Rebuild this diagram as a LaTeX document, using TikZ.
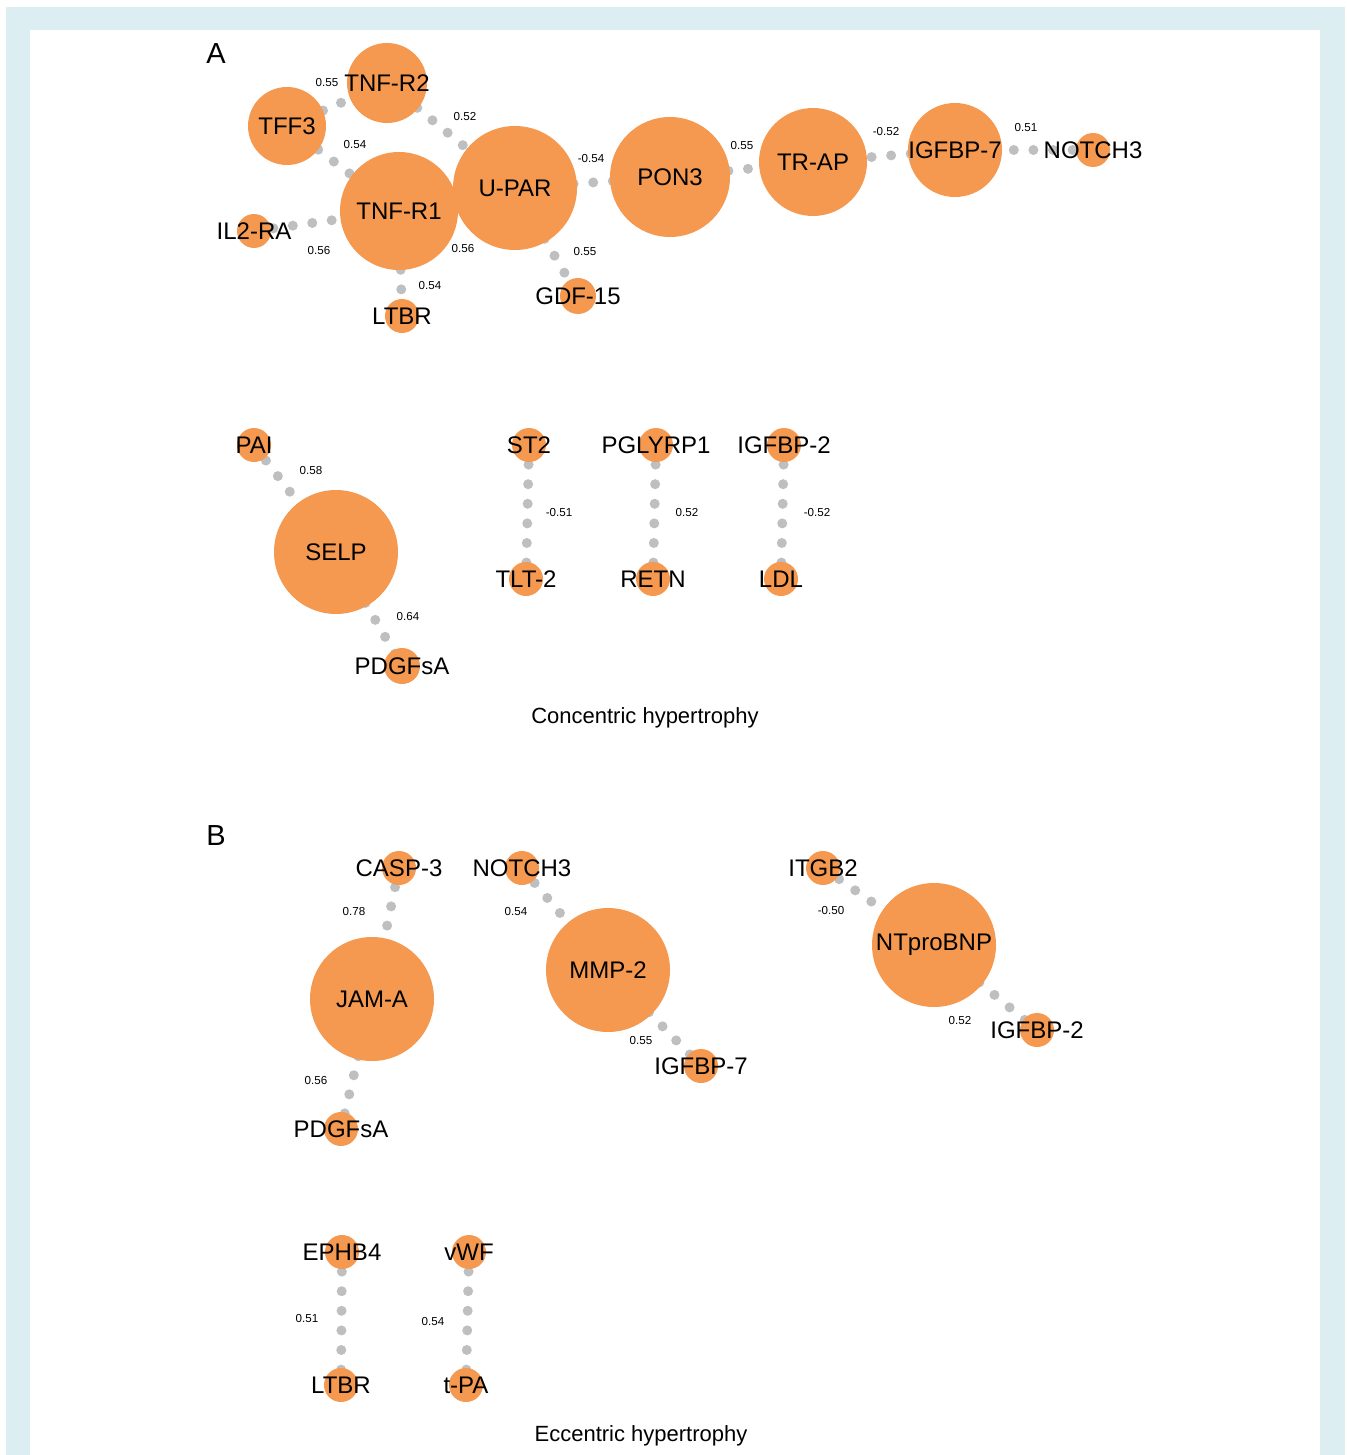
\documentclass[tikz,border=0pt]{standalone}
\usepackage{fontspec}
\setmainfont{Liberation Sans}
\usetikzlibrary{backgrounds}
\definecolor{geneorange}{RGB}{245,153,80}
\definecolor{dotgray}{RGB}{189,191,193}
\definecolor{frameblue}{RGB}{221,238,243}
\tikzset{
    gene/.style={circle, fill=geneorange, inner sep=0pt, minimum size=#1},
    gene/.default=17pt,
    corr/.style={draw=dotgray, line width=5pt, line cap=round, dash pattern=on 0pt off 9.8pt},
    weight/.style={font=\fontsize{5.8}{7}\selectfont, inner sep=0pt},
    every label/.style={font=\fontsize{12}{14}\selectfont},
}

\begin{document}
\begin{tikzpicture}[x=0.5pt, y=-0.5pt]
    \useasboundingbox (0,0) rectangle (1346,1455);
    % Frame
    \begin{scope}[on background layer]
        \fill[frameblue] (6,7) rectangle (1345,1455);
        \fill[white] (30,30) rectangle (1320,1455);
    \end{scope}

    % Panel A: concentric hypertrophy
    \node[font=\fontsize{14.5}{17}\selectfont] (panelA) at (216,54) {A};
    \node[gene=40pt, label=center:TNF-R2] (tnfr2) at (387,83) {};
    \node[gene=39pt, label=center:TFF3] (tff3) at (287,126) {};
    \node[gene=59pt, label=center:TNF-R1] (tnfr1) at (399,211) {};
    \node[gene=62pt, label=center:U-PAR] (upar) at (515,188) {};
    \node[gene, label=center:IL2-RA] (il2ra) at (254,231) {};
    \node[gene, label=center:LTBR] (ltbrA) at (402,316) {};
    \node[gene=18pt, label=center:GDF-15] (gdf15) at (578,296) {};
    \node[gene=60pt, label=center:PON3] (pon3) at (670,177) {};
    \node[gene=54pt, label=center:TR-AP] (trap) at (813,162) {};
    \node[gene=47pt, label=center:IGFBP-7] (igfbp7A) at (955,150) {};
    \node[gene, label=center:NOTCH3] (notch3A) at (1093,150) {};

    \node[gene, label=center:PAI] (pai) at (254,445) {};
    \node[gene=62pt, label=center:SELP] (selp) at (336,552) {};
    \node[gene=18pt, label=center:PDGFsA] (pdgfsaA) at (402,666) {};
    \node[gene, label=center:ST2] (st2) at (529,445) {};
    \node[gene, label=center:TLT-2] (tlt2) at (526,579) {};
    \node[gene, label=center:PGLYRP1] (pglyrp1) at (656,445) {};
    \node[gene, label=center:RETN] (retn) at (653,579) {};
    \node[gene, label=center:IGFBP-2] (igfbp2A) at (784,445) {};
    \node[gene, label=center:LDL] (ldl) at (781,579) {};
    \node[font=\fontsize{11}{13}\selectfont] (capA) at (645,718) {Concentric hypertrophy};

    % Panel B: eccentric hypertrophy
    \node[font=\fontsize{14.5}{17}\selectfont] (panelB) at (216,836) {B};
    \node[gene, label=center:CASP-3] (casp3) at (399,868) {};
    \node[gene=62pt, label=center:JAM-A] (jama) at (372,999) {};
    \node[gene, label=center:PDGFsA] (pdgfsaB) at (341,1129) {};
    \node[gene, label=center:NOTCH3] (notch3B) at (522,868) {};
    \node[gene=62pt, label=center:MMP-2] (mmp2) at (608,970) {};
    \node[gene, label=center:IGFBP-7] (igfbp7B) at (701,1066) {};
    \node[gene, label=center:ITGB2] (itgb2) at (823,868) {};
    \node[gene=62pt, label=center:NTproBNP] (ntprobnp) at (934,945) {};
    \node[gene, label=center:IGFBP-2] (igfbp2B) at (1037,1030) {};
    \node[gene, label=center:EPHB4] (ephb4) at (342,1252) {};
    \node[gene, label=center:LTBR] (ltbrB) at (341,1385) {};
    \node[gene, label=center:vWF] (vwf) at (469,1252) {};
    \node[gene, label=center:t-PA] (tpa) at (466,1385) {};
    \node[font=\fontsize{11}{13}\selectfont] (capB) at (641,1436) {Eccentric hypertrophy};

    % Correlations
    \begin{scope}[on background layer]
        \draw[corr] (tff3.center) -- (tnfr2.center);
        \draw[corr] (tnfr2.center) -- (upar.center);
        \draw[corr] (tff3.center) -- (tnfr1.center);
        \draw[corr] (il2ra.center) -- (tnfr1.center);
        \draw[corr] (tnfr1.center) -- (upar.center);
        \draw[corr] (tnfr1.center) -- (ltbrA.center);
        \draw[corr] (upar.center) -- (gdf15.center);
        \draw[corr] (upar.center) -- (pon3.center);
        \draw[corr] (pon3.center) -- (trap.center);
        \draw[corr] (trap.center) -- (igfbp7A.center);
        \draw[corr] (igfbp7A.center) -- (notch3A.center);
        \draw[corr] (pai.center) -- (selp.center);
        \draw[corr] (selp.center) -- (pdgfsaA.center);
        \draw[corr] (st2.center) -- (tlt2.center);
        \draw[corr] (pglyrp1.center) -- (retn.center);
        \draw[corr] (igfbp2A.center) -- (ldl.center);
        \draw[corr] (casp3.center) -- (jama.center);
        \draw[corr] (jama.center) -- (pdgfsaB.center);
        \draw[corr] (notch3B.center) -- (mmp2.center);
        \draw[corr] (mmp2.center) -- (igfbp7B.center);
        \draw[corr] (itgb2.center) -- (ntprobnp.center);
        \draw[corr] (ntprobnp.center) -- (igfbp2B.center);
        \draw[corr] (ephb4.center) -- (ltbrB.center);
        \draw[corr] (vwf.center) -- (tpa.center);
    \end{scope}

    % Correlation coefficients
    \node[weight] (w1) at (327,83) {0.55};
    \node[weight] (w2) at (465,117) {0.52};
    \node[weight] (w3) at (355,145) {0.54};
    \node[weight] (w4) at (319,251) {0.56};
    \node[weight] (w5) at (463,249) {0.56};
    \node[weight] (w6) at (430,286) {0.54};
    \node[weight] (w7) at (585,252) {0.55};
    \node[weight] (w8) at (591,159) {-0.54};
    \node[weight] (w9) at (742,146) {0.55};
    \node[weight] (w10) at (886,132) {-0.52};
    \node[weight] (w11) at (1026,128) {0.51};
    \node[weight] (w12) at (311,471) {0.58};
    \node[weight] (w13) at (408,617) {0.64};
    \node[weight] (w14) at (559,513) {-0.51};
    \node[weight] (w15) at (687,513) {0.52};
    \node[weight] (w16) at (817,513) {-0.52};
    \node[weight] (w17) at (354,911) {0.78};
    \node[weight] (w18) at (316,1080) {0.56};
    \node[weight] (w19) at (516,911) {0.54};
    \node[weight] (w20) at (641,1040) {0.55};
    \node[weight] (w21) at (831,910) {-0.50};
    \node[weight] (w22) at (960,1020) {0.52};
    \node[weight] (w23) at (307,1318) {0.51};
    \node[weight] (w24) at (433,1321) {0.54};
\end{tikzpicture}
\end{document}
